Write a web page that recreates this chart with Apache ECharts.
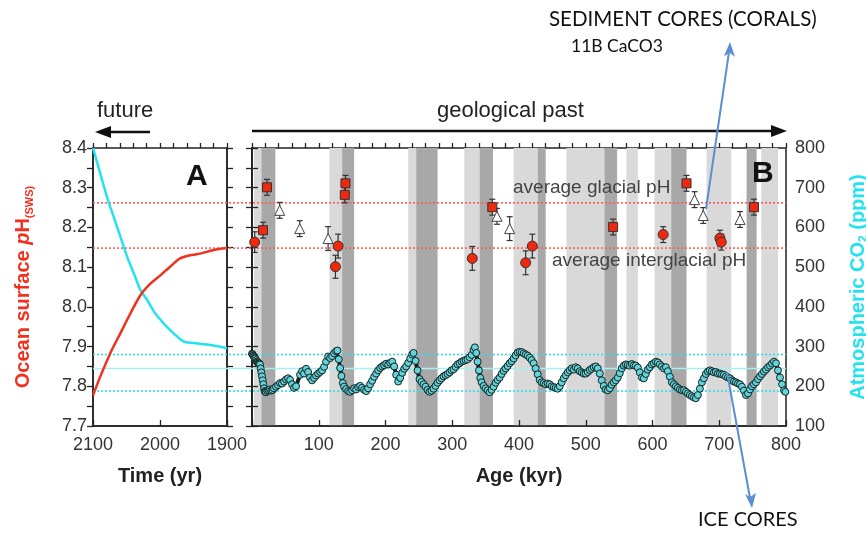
<!DOCTYPE html>
<html><head><meta charset="utf-8">
<script src="https://cdn.jsdelivr.net/npm/echarts@6/dist/echarts.min.js"></script>
<style>html,body{margin:0;padding:0;background:#fff}#c{width:866px;height:537px}</style>
</head><body><div id="c"></div>
<script>
// ---------- Panel A (future projection) ----------
const co2Years = [2100, 2089, 2079, 2069, 2059, 2049, 2039, 2029, 2019, 2009, 1999, 1990, 1980, 1965, 1950, 1930, 1900];
const co2Future = [800, 735, 676, 626, 576, 526, 484, 442, 417, 388, 367, 350, 334, 313, 309, 305, 296];
const phYears = [2100, 2089, 2074, 2059, 2044, 2029, 2014, 1999, 1985, 1970, 1955, 1940, 1920, 1900];
const phFuture = [7.777, 7.825, 7.884, 7.934, 7.984, 8.030, 8.059, 8.080, 8.101, 8.122, 8.130, 8.134, 8.143, 8.148];

// ---------- Panel B (geological past) ----------
// [age kyr, pH, error]
const phSquares = [[16.5, 8.193, 0.02], [22.5, 8.301, 0.02], [139, 8.282, 0.02], [140, 8.311, 0.02], [360, 8.251, 0.02], [541, 8.201, 0.02], [651, 8.311, 0.02], [752, 8.251, 0.02]];
const phCircles = [[4, 8.163, 0.026], [125, 8.101, 0.029], [129, 8.153, 0.03], [330, 8.122, 0.03], [410, 8.111, 0.03], [420, 8.153, 0.03], [616, 8.182, 0.02], [701, 8.173, 0.02], [703, 8.163, 0.02]];
const phTriangles = [[41.5, 8.243, 0.02], [71.5, 8.197, 0.02], [114, 8.172, 0.03], [367, 8.228, 0.02], [386, 8.197, 0.03], [663, 8.27, 0.02], [676, 8.23, 0.02], [731, 8.22, 0.02]];

// glacial / interglacial shading [start kyr, end kyr]
const lightBands = [[3, 14], [116, 135], [234, 246], [318, 341], [392, 428], [471, 528], [561, 578], [603, 628], [681, 718], [763, 788]];
const darkBands = [[14, 35], [135, 153], [246, 278], [341, 361], [428, 440], [528, 547], [628, 651], [741, 756]];

// reference levels
const glacialPH = 8.262;
const interglacialPH = 8.148;
const co2Levels = [280, 188];
const co2Mid = 245;

// ice core CO2 record [age kyr, ppm]
const co2Record = [[0,282],[1,280],[2,277],[3,275],[4,272],[5,270],[6,266],[7,262],[8,261],[9,260],[10,258],[11,257],[12,255],[13,245],[14,235],[15,225],[16,215],[17,205],[18,195],[19,188],[20,186],[21,185],[23,188],[25,190],[27,192],[29,189],[31,191],[33,195],[36,199],[39,203],[42,208],[45,207],[48,212],[51,217],[54,220],[57,216],[60,205],[63,196],[66,200],[72,229],[75,238],[78,232],[81,244],[84,236],[87,222],[90,215],[93,221],[96,227],[99,232],[102,236],[105,240],[108,249],[111,262],[114,275],[117,271],[120,276],[123,283],[126,288],[128,290],[130,268],[132,246],[134,226],[136,208],[138,199],[141,193],[144,188],[147,186],[150,190],[153,195],[156,192],[159,198],[162,201],[165,196],[168,191],[171,188],[174,195],[177,205],[180,214],[183,224],[186,232],[189,240],[192,246],[195,250],[198,253],[201,257],[204,255],[207,259],[210,262],[213,250],[216,229],[219,212],[222,221],[225,234],[228,244],[231,250],[234,259],[237,270],[240,280],[242,284],[245,264],[248,240],[251,218],[254,211],[257,205],[260,199],[263,191],[266,186],[269,189],[272,194],[275,201],[278,209],[281,215],[284,220],[287,225],[290,228],[293,231],[296,235],[299,240],[302,243],[305,249],[308,255],[311,258],[314,262],[317,264],[320,266],[323,268],[326,273],[329,279],[332,291],[334,298],[336,284],[338,262],[340,240],[342,221],[344,210],[347,201],[350,195],[353,190],[356,185],[359,191],[362,199],[365,209],[368,216],[371,222],[374,231],[377,239],[380,245],[383,251],[386,258],[389,263],[392,270],[395,278],[398,285],[401,287],[404,286],[407,283],[410,280],[413,277],[416,272],[419,266],[422,258],[425,245],[428,230],[431,216],[434,210],[437,208],[440,205],[443,207],[446,205],[449,200],[452,198],[455,196],[458,194],[461,200],[464,210],[467,220],[470,228],[473,235],[476,240],[479,245],[482,242],[485,248],[488,245],[491,238],[494,235],[497,232],[500,232],[503,236],[506,241],[509,244],[512,248],[515,250],[518,245],[521,232],[524,215],[527,201],[530,192],[533,190],[536,195],[539,204],[542,210],[545,215],[548,222],[551,233],[554,245],[557,252],[560,255],[563,254],[566,252],[569,256],[572,253],[575,252],[578,247],[581,235],[584,222],[587,220],[590,231],[593,242],[596,248],[599,255],[602,258],[605,262],[608,260],[611,255],[614,250],[617,245],[620,248],[623,238],[626,224],[629,210],[632,205],[635,200],[638,196],[641,192],[644,190],[647,190],[650,186],[653,182],[656,178],[659,175],[662,172],[665,170],[668,178],[671,194],[674,210],[677,220],[680,231],[683,237],[686,240],[689,238],[692,235],[695,236],[698,232],[701,232],[704,230],[707,229],[710,225],[713,222],[716,220],[719,215],[722,212],[725,210],[728,207],[731,205],[734,199],[737,189],[740,178],[743,182],[746,192],[749,200],[752,205],[755,210],[758,218],[761,225],[764,231],[767,237],[770,242],[773,248],[776,252],[779,257],[782,262],[785,258],[788,240],[791,222],[794,205],[797,190],[799,186]];

const FONT = '"Liberation Sans", Arial, Helvetica, sans-serif';
const AX = '#222';
const RED = '#f2301e';
const CYAN = '#22e3ee';

const chart = echarts.init(document.getElementById('c'), null, {renderer: 'canvas'});

function tickAxisX(grid, min, max, inverse) {
  return {gridIndex: grid, type: 'value', min: min, max: max, inverse: inverse, interval: 20,
    axisLine: {show: false}, axisTick: {show: true, inside: false, length: 5, lineStyle: {color: AX, width: 1.3}},
    axisLabel: {show: false}, splitLine: {show: false}};
}
const labelStyle = {fontSize: 18, color: '#333', fontFamily: FONT};
const titleStyle = {fontWeight: 'bold', fontSize: 20, color: AX, fontFamily: FONT};

const phFmt = v => { const r = Math.round(v * 100); return r % 10 === 0 ? (r / 100).toFixed(1) : ''; };

const option = {
  animation: false,
  backgroundColor: '#fff',
  grid: [
    {left: 93, top: 148, width: 134, height: 278, show: true, borderColor: AX, borderWidth: 1.5, backgroundColor: 'transparent', containLabel: false, outerBoundsMode: 'none'},
    {left: 252, top: 148, width: 534, height: 278, show: true, borderColor: AX, borderWidth: 1.5, backgroundColor: 'transparent', containLabel: false, outerBoundsMode: 'none'}
  ],
  xAxis: [
    {gridIndex: 0, type: 'value', min: 1900, max: 2100, inverse: true, interval: 100,
      axisLine: {lineStyle: {color: AX, width: 1.5}}, axisTick: {inside: true, length: 6, lineStyle: {color: AX, width: 1.3}},
      axisLabel: Object.assign({margin: 10, formatter: v => String(v)}, labelStyle), splitLine: {show: false},
      name: 'Time (yr)', nameLocation: 'middle', nameGap: 40, nameTextStyle: titleStyle},
    tickAxisX(0, 1900, 2100, true),
    {gridIndex: 1, type: 'value', min: 0, max: 800, interval: 100,
      axisLine: {lineStyle: {color: AX, width: 1.5}}, axisTick: {inside: true, length: 6, lineStyle: {color: AX, width: 1.3}},
      axisLabel: Object.assign({margin: 10, formatter: v => v === 0 ? '' : String(v)}, labelStyle), splitLine: {show: false},
      name: 'Age (kyr)', nameLocation: 'middle', nameGap: 40, nameTextStyle: titleStyle},
    tickAxisX(1, 0, 800, false)
  ],
  yAxis: [
    {gridIndex: 0, type: 'value', min: 7.7, max: 8.4, interval: 0.05, position: 'left',
      axisLine: {lineStyle: {color: AX, width: 1.5}}, axisTick: {length: 6, lineStyle: {color: AX, width: 1.3}},
      axisLabel: Object.assign({margin: 6, formatter: phFmt}, labelStyle), splitLine: {show: false},
      name: '{a|Ocean surface }{b|p}{a|H}{c|(SWS)}', nameLocation: 'middle', nameRotate: 90, nameGap: 58,
      nameTextStyle: {color: RED, fontWeight: 'bold', fontSize: 20, fontFamily: FONT,
        rich: {a: {color: RED, fontWeight: 'bold', fontSize: 20, fontFamily: FONT, lineHeight: 24},
               b: {color: RED, fontWeight: 'bold', fontStyle: 'italic', fontSize: 20, fontFamily: FONT, lineHeight: 24},
               c: {color: RED, fontSize: 11, fontFamily: FONT, verticalAlign: 'bottom', lineHeight: 24, padding: [9, 0, 0, 0]}}}},
    {gridIndex: 0, type: 'value', min: 100, max: 800, interval: 50, position: 'right',
      axisLine: {lineStyle: {color: AX, width: 1.5}}, axisTick: {length: 6, lineStyle: {color: AX, width: 1.3}},
      axisLabel: {show: false}, splitLine: {show: false}},
    {gridIndex: 1, type: 'value', min: 7.7, max: 8.4, interval: 0.05, position: 'left',
      axisLine: {lineStyle: {color: AX, width: 1.5}}, axisTick: {length: 6, lineStyle: {color: AX, width: 1.3}},
      axisLabel: {show: false}, splitLine: {show: false}},
    {gridIndex: 1, type: 'value', min: 100, max: 800, interval: 50, position: 'right',
      axisLine: {lineStyle: {color: AX, width: 1.5}}, axisTick: {length: 6, lineStyle: {color: AX, width: 1.3}},
      axisLabel: Object.assign({margin: 9, formatter: v => v % 100 === 0 ? String(v) : ''}, labelStyle), splitLine: {show: false},
      name: '{a|Atmospheric CO}{s|2}{a| (ppm)}', nameLocation: 'middle', nameRotate: 90, nameGap: 60,
      nameTextStyle: {color: CYAN, fontWeight: 'bold', fontSize: 20, fontFamily: FONT,
        rich: {a: {color: CYAN, fontWeight: 'bold', fontSize: 20, fontFamily: FONT, lineHeight: 24},
               s: {color: CYAN, fontWeight: 'bold', fontSize: 12, fontFamily: FONT, verticalAlign: 'bottom', lineHeight: 24, padding: [9, 0, 0, 0]}}}}
  ],
  series: [
    // shading bands
    {type: 'custom', xAxisIndex: 2, yAxisIndex: 2, z: 0, silent: true,
      data: lightBands.map(b => [b[0], b[1], 0]).concat(darkBands.map(b => [b[0], b[1], 1])),
      encode: {x: [0, 1]},
      renderItem: function (params, api) {
        const p0 = api.coord([api.value(0), 8.4]);
        const p1 = api.coord([api.value(1), 7.7]);
        return {type: 'rect', shape: {x: p0[0], y: p0[1], width: p1[0] - p0[0], height: p1[1] - p0[1]},
          style: {fill: api.value(2) === 1 ? '#a8a8a8' : '#d9d9d9'}};
      }},
    // panel A
    {type: 'line', xAxisIndex: 0, yAxisIndex: 1, z: 3, showSymbol: false, smooth: 0.3,
      data: co2Years.map((y, i) => [y, co2Future[i]]), lineStyle: {color: CYAN, width: 2.5}},
    {type: 'line', xAxisIndex: 0, yAxisIndex: 0, z: 3, showSymbol: false, smooth: 0.3,
      data: phYears.map((y, i) => [y, phFuture[i]]), lineStyle: {color: RED, width: 2.5}},
    // ice core CO2
    {type: 'line', xAxisIndex: 2, yAxisIndex: 3, z: 3, showSymbol: true, showAllSymbol: true, symbol: 'circle', symbolSize: 7,
      data: co2Record, lineStyle: {color: '#142222', width: 4},
      itemStyle: {color: '#62d4da', borderColor: '#142222', borderWidth: 1}},
    // error bars
    {type: 'custom', xAxisIndex: 2, yAxisIndex: 2, z: 4, silent: true,
      data: phSquares.concat(phCircles, phTriangles),
      renderItem: function (params, api) {
        const x = api.value(0), y = api.value(1), e = api.value(2);
        const t = api.coord([x, y + e]), b = api.coord([x, y - e]);
        const w = 3, st = {stroke: '#333', lineWidth: 1.2};
        return {type: 'group', children: [
          {type: 'line', shape: {x1: t[0], y1: t[1], x2: b[0], y2: b[1]}, style: st},
          {type: 'line', shape: {x1: t[0] - w, y1: t[1], x2: t[0] + w, y2: t[1]}, style: st},
          {type: 'line', shape: {x1: b[0] - w, y1: b[1], x2: b[0] + w, y2: b[1]}, style: st}
        ]};
      }},
    {type: 'scatter', xAxisIndex: 2, yAxisIndex: 2, z: 5, symbol: 'rect', symbolSize: 9,
      data: phSquares.map(p => [p[0], p[1]]), itemStyle: {color: '#f0280e', borderColor: '#333', borderWidth: 1, opacity: 1}},
    {type: 'scatter', xAxisIndex: 2, yAxisIndex: 2, z: 5, symbol: 'circle', symbolSize: 10,
      data: phCircles.map(p => [p[0], p[1]]), itemStyle: {color: '#f0280e', borderColor: '#333', borderWidth: 1, opacity: 1}},
    {type: 'scatter', xAxisIndex: 2, yAxisIndex: 2, z: 5, symbol: 'triangle', symbolSize: 10,
      data: phTriangles.map(p => [p[0], p[1]]), itemStyle: {color: '#fff', borderColor: '#444', borderWidth: 1, opacity: 1}}
  ]
};
chart.setOption(option);

// reference lines across both panels, positioned by the library's axes
const X0 = 93, X1 = 786;
const py = v => chart.convertToPixel({yAxisIndex: 0}, v);
const cy = v => chart.convertToPixel({yAxisIndex: 3}, v);
const hl = (y, color, dash, w) => ({type: 'line', z: 1, silent: true, shape: {x1: X0, y1: y, x2: X1, y2: y},
  style: {stroke: color, lineWidth: w, lineDash: dash}});
const txt = (x, y, s, size, opts) => Object.assign({type: 'text', z: 10, x: x, y: y,
  style: Object.assign({text: s, fontSize: size, fontFamily: FONT, fill: '#222'}, opts || {})});
const blue = '#5b8fd0';
const els = [
  hl(py(glacialPH), '#ff5a5a', [2, 2], 1.6),
  hl(py(interglacialPH), '#ff5a5a', [2, 2], 1.6),
  hl(cy(co2Levels[0]), '#30dde8', [2, 2], 1.6),
  hl(cy(co2Levels[1]), '#30dde8', [2, 2], 1.6),
  hl(cy(co2Mid), '#a6eff4', null, 1.5),
  txt(97, 100, 'future', 22),
  {type: 'line', z: 10, shape: {x1: 106, y1: 132, x2: 150, y2: 132}, style: {stroke: '#111', lineWidth: 2.5}},
  {type: 'polygon', z: 10, shape: {points: [[95, 132], [111, 126], [111, 138]]}, style: {fill: '#111'}},
  txt(437, 100, 'geological past', 22),
  {type: 'line', z: 10, shape: {x1: 252, y1: 131, x2: 774, y2: 131}, style: {stroke: '#111', lineWidth: 2.5}},
  {type: 'polygon', z: 10, shape: {points: [[787, 131], [771, 125], [771, 137]]}, style: {fill: '#111'}},
  txt(186, 162, 'A', 30, {fontWeight: 'bold', fill: '#111'}),
  txt(752, 159, 'B', 30, {fontWeight: 'bold', fill: '#111'}),
  txt(513, 178, 'average glacial pH', 19, {fill: '#444'}),
  txt(552, 251, 'average interglacial pH', 19, {fill: '#444'}),
  txt(549, 9, 'SEDIMENT CORES (CORALS)', 20.5, {fontFamily: 'Lato', fill: '#111'}),
  txt(571, 37, '11B CaCO3', 17.5, {fontFamily: 'Lato', fill: '#111'}),
  txt(698, 510, 'ICE CORES', 20, {fontFamily: 'Lato', fill: '#111'}),
  {type: 'line', z: 10, shape: {x1: 706, y1: 209, x2: 729, y2: 52}, style: {stroke: blue, lineWidth: 2}},
  {type: 'polygon', z: 10, shape: {points: [[730, 42], [724, 56], [730, 53], [735, 57]]}, style: {fill: blue}},
  {type: 'line', z: 10, shape: {x1: 727, y1: 372, x2: 750, y2: 498}, style: {stroke: blue, lineWidth: 2}},
  {type: 'polygon', z: 10, shape: {points: [[752, 508], [745, 494], [750, 497], [756, 493]]}, style: {fill: blue}}
];
chart.setOption({graphic: {elements: els}});
</script></body></html>
